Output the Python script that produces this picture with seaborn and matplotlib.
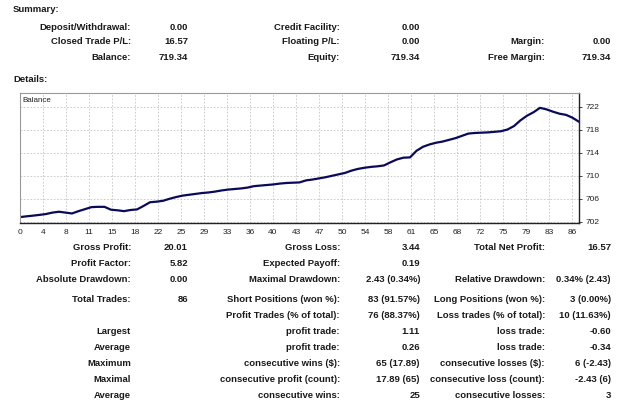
import numpy as np
import pandas as pd
import matplotlib
matplotlib.use("Agg")
import matplotlib.pyplot as plt
import seaborn as sns

# ---------------- data ----------------
balance = [702.77, 702.90, 703.02, 703.15, 703.30, 703.55, 703.70, 703.55, 703.40, 703.80,
           704.15, 704.50, 704.55, 704.55, 704.05, 703.95, 703.80, 704.00, 704.10, 704.70,
           705.35, 705.45, 705.60, 705.95, 706.25, 706.50, 706.65, 706.80, 706.95, 707.05,
           707.20, 707.40, 707.55, 707.65, 707.75, 707.90, 708.15, 708.25, 708.35, 708.45,
           708.60, 708.70, 708.75, 708.80, 709.15, 709.30, 709.50, 709.70, 709.95, 710.20,
           710.45, 710.85, 711.15, 711.35, 711.50, 711.60, 711.75, 712.30, 712.80, 713.10,
           713.15, 714.30, 715.00, 715.40, 715.70, 715.90, 716.20, 716.50, 716.90, 717.30,
           717.40, 717.45, 717.50, 717.60, 717.70, 718.00, 718.60, 719.60, 720.40, 721.00,
           721.77, 721.50, 721.10, 720.75, 720.55, 720.05, 719.34]
x_tick_labels = ["0", "4", "8", "11", "15", "18", "22", "25", "29", "33", "36", "40", "43",
                 "47", "50", "54", "58", "61", "65", "68", "72", "75", "79", "83", "86"]
y_ticks = [702, 706, 710, 714, 718, 722]

summary_c1_labels = ["Deposit/Withdrawal:", "Closed Trade P/L:", "Balance:"]
summary_c1_values = ["0.00", "16.57", "719.34"]
summary_c2_labels = ["Credit Facility:", "Floating P/L:", "Equity:"]
summary_c2_values = ["0.00", "0.00", "719.34"]
summary_c3_labels = ["", "Margin:", "Free Margin:"]
summary_c3_values = ["", "0.00", "719.34"]

details_c1_labels = ["Gross Profit:", "Profit Factor:", "Absolute Drawdown:", "Total Trades:",
                     "", "Largest", "Average", "Maximum", "Maximal", "Average"]
details_c1_values = ["20.01", "5.82", "0.00", "86", "", "", "", "", "", ""]
details_c2_labels = ["Gross Loss:", "Expected Payoff:", "Maximal Drawdown:", "Short Positions (won %):",
                     "Profit Trades (% of total):", "profit trade:", "profit trade:",
                     "consecutive wins ($):", "consecutive profit (count):", "consecutive wins:"]
details_c2_values = ["3.44", "0.19", "2.43 (0.34%)", "83 (91.57%)", "76 (88.37%)", "1.11", "0.26",
                     "65 (17.89)", "17.89 (65)", "25"]
details_c3_labels = ["Total Net Profit:", "", "Relative Drawdown:", "Long Positions (won %):",
                     "Loss trades (% of total):", "loss trade:", "loss trade:",
                     "consecutive losses ($):", "consecutive loss (count):", "consecutive losses:"]
details_c3_values = ["16.57", "", "0.34% (2.43)", "3 (0.00%)", "10 (11.63%)", "-0.60", "-0.34",
                     "6 (-2.43)", "-2.43 (6)", "3"]

# ---------------- figure ----------------
sns.set_style("white")
plt.rcParams["font.family"] = ["Liberation Sans", "DejaVu Sans"]

W, H = 625, 401
fig = plt.figure(figsize=(W / 100, H / 100), dpi=100)
fig.patch.set_facecolor("white")


def px(x, y):
    return x / W, 1 - y / H


txt_kw = dict(fontsize=6.8, fontweight="bold", color="#1a1a1a", va="center")

fig.text(*px(13, 10), "Summary:", ha="left", **txt_kw)
fig.text(*px(13, 79), "Details:", ha="left", **txt_kw)

sum_rows = [27, 42, 57]
for i, yy in enumerate(sum_rows):
    fig.text(*px(131, yy), summary_c1_labels[i], ha="right", **txt_kw)
    fig.text(*px(188, yy), summary_c1_values[i], ha="right", **txt_kw)
    fig.text(*px(340, yy), summary_c2_labels[i], ha="right", **txt_kw)
    fig.text(*px(420, yy), summary_c2_values[i], ha="right", **txt_kw)
    fig.text(*px(545, yy), summary_c3_labels[i], ha="right", **txt_kw)
    fig.text(*px(611, yy), summary_c3_values[i], ha="right", **txt_kw)

det_rows = [248, 264, 280, 299, 316, 332, 348, 364, 380, 395]
for i, yy in enumerate(det_rows):
    fig.text(*px(131, yy), details_c1_labels[i], ha="right", **txt_kw)
    fig.text(*px(188, yy), details_c1_values[i], ha="right", **txt_kw)
    fig.text(*px(340, yy), details_c2_labels[i], ha="right", **txt_kw)
    fig.text(*px(420, yy), details_c2_values[i], ha="right", **txt_kw)
    fig.text(*px(545, yy), details_c3_labels[i], ha="right", **txt_kw)
    fig.text(*px(611, yy), details_c3_values[i], ha="right", **txt_kw)

# ---------------- chart ----------------
left, right, top, bottom = 20, 579, 93, 223
ax = fig.add_axes([left / W, 1 - bottom / H, (right - left) / W, (bottom - top) / H])
df = pd.DataFrame({"trade": np.arange(len(balance)), "balance": balance})
sns.lineplot(data=df, x="trade", y="balance", ax=ax, color="#0a0a5a", linewidth=1.6)

n = len(balance) - 1
ax.set_xlim(0, n)
ax.set_ylim(701.74, 724.35)
step = 23 * n / (right - left)
ax.set_xticks([k * step for k in range(len(x_tick_labels))])
ax.set_xticklabels(x_tick_labels)
ax.set_yticks(y_ticks)
ax.set_yticklabels([str(v) for v in y_ticks])
ax.yaxis.tick_right()
ax.tick_params(axis="both", labelsize=6, colors="#222222", length=2, width=0.6, pad=2)
ax.tick_params(axis="y", pad=3)
ax.set_xlabel("")
ax.set_ylabel("")
ax.grid(True, color="#c4c4c4", linestyle=(0, (2, 2)), linewidth=0.6)
for s in ["left", "top"]:
    ax.spines[s].set_color("#999999")
    ax.spines[s].set_linewidth(0.8)
for s in ["right", "bottom"]:
    ax.spines[s].set_color("#222222")
    ax.spines[s].set_linewidth(1.0)
ax.text(0.004, 0.97, "Balance", transform=ax.transAxes, fontsize=5.8, color="#222222",
        ha="left", va="top")

fig.savefig("out.png", dpi=100, facecolor="white")
